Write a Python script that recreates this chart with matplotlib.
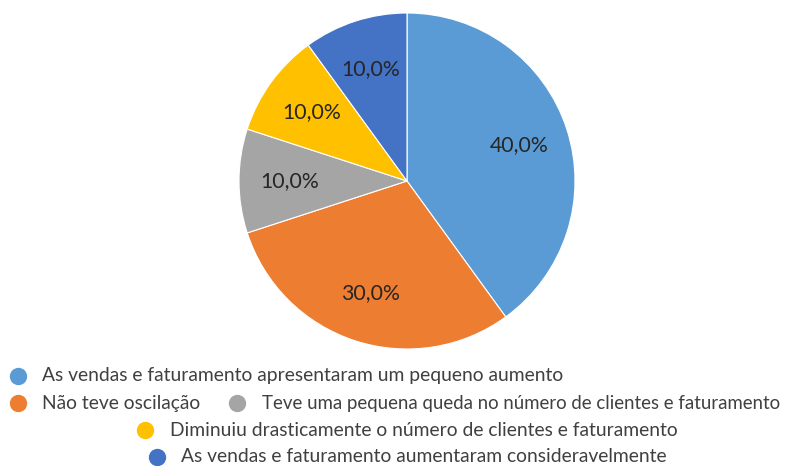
import matplotlib
matplotlib.use("Agg")
import matplotlib.pyplot as plt
from matplotlib.lines import Line2D

categories = [
    "As vendas e faturamento apresentaram um pequeno aumento",
    "Não teve oscilação",
    "Teve uma pequena queda no número de clientes e faturamento",
    "Diminuiu drasticamente o número de clientes e faturamento",
    "As vendas e faturamento aumentaram consideravelmente",
]
values = [40.0, 30.0, 10.0, 10.0, 10.0]
colors = ["#5B9BD5", "#ED7D31", "#A5A5A5", "#FFC000", "#4472C4"]

plt.rcParams['font.family'] = ['Lato', 'DejaVu Sans']

W, H = 793, 466
fig = plt.figure(figsize=(W / 100, H / 100), dpi=100)

cx, cy, r = 407, 181, 168
ax = fig.add_axes([(cx - r) / W, (H - cy - r) / H, 2 * r / W, 2 * r / H])
wedges, texts, autotexts = ax.pie(
    values, colors=colors, startangle=90, counterclock=False,
    autopct=lambda p: f"{p:.1f}%".replace(".", ","), pctdistance=0.7,
    radius=1.0, wedgeprops=dict(edgecolor="white", linewidth=0.8),
    textprops=dict(fontsize=15.3, color="#262626"))
ax.set_xlim(-1, 1)
ax.set_ylim(-1, 1)
ax.set_aspect("equal")
ax.axis("off")

# legend (Excel-like centered wrap)
legend_pos = [(18, 42, 376), (18, 42, 403), (237, 262, 403), (145, 170, 430), (157, 181, 457)]
legend_fs = [13.9, 13.9, 13.4, 13.9, 13.9]
for (mx, tx, ty), lab, col, fs in zip(legend_pos, categories, colors, legend_fs):
    fig.add_artist(Line2D([mx / W], [1 - ty / H], marker="o", markersize=12.5,
                          color=col, markeredgewidth=0, linestyle="none",
                          transform=fig.transFigure))
    fig.text(tx / W, 1 - ty / H, lab, fontsize=fs, color="#404040",
             va="center", ha="left")

fig.savefig("out.png", dpi=100)
